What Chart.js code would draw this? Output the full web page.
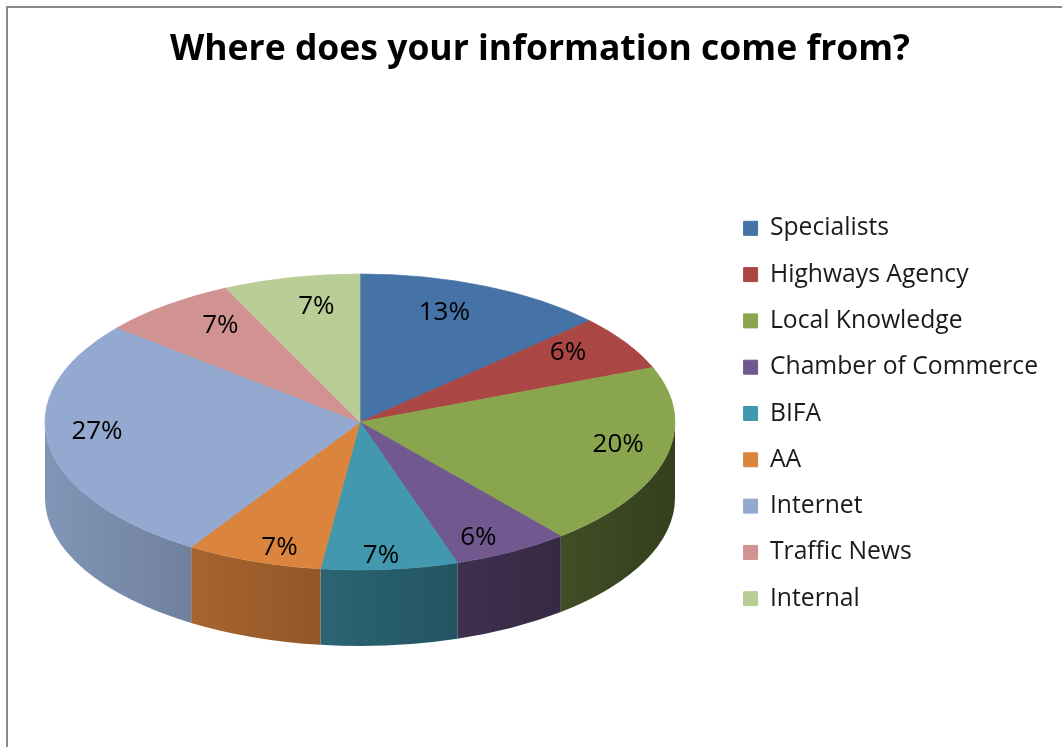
<!DOCTYPE html>
<html>
<head>
<meta charset="utf-8">
<script src="https://cdn.jsdelivr.net/npm/chart.js@4.4.0/dist/chart.umd.min.js"></script>
<style>
  html, body { margin: 0; padding: 0; background: #fff; overflow: hidden; }
  #wrap { position: relative; width: 1062px; height: 747px; }
  #frame { position: absolute; left: 6px; top: 6px; width: 1200px; height: 900px;
           border-left: 2px solid #8a8a8a; border-top: 2px solid #8a8a8a; }
  canvas { position: absolute; left: 0; top: 0; }
</style>
</head>
<body>
<div id="wrap">
  <div id="frame"></div>
  <canvas id="sources" width="1062" height="747"></canvas>
</div>
<script>
const sourceNames = ['Specialists', 'Highways Agency', 'Local Knowledge', 'Chamber of Commerce',
  'BIFA', 'AA', 'Internet', 'Traffic News', 'Internal'];
const sharePct = [13, 6, 20, 6, 7, 7, 27, 7, 7];
const sliceColors = ['#4572a7', '#aa4643', '#89a54e', '#71588f', '#4198af',
  '#db843d', '#93a9cf', '#d19392', '#b9cd96'];

const FONT = "'Open Sans', 'Noto Sans', sans-serif";

// where the tilted disc sits on the canvas
const disc = { cx: 360, cy: 422, rx: 315, ry: 148, depth: 76 };

function shade(hex, f) {
  const n = parseInt(hex.slice(1), 16);
  const r = Math.round(((n >> 16) & 255) * f);
  const g = Math.round(((n >> 8) & 255) * f);
  const b = Math.round((n & 255) * f);
  return `rgb(${r},${g},${b})`;
}

// side walls get darker towards the right
function wallLight(x) {
  const t = Math.min(1, Math.max(0, (x - (disc.cx - disc.rx)) / (2 * disc.rx)));
  return 0.88 - 0.5 * t;
}

const pie3d = {
  id: 'pie3d',
  beforeDatasetsDraw(chart) {
    const ctx = chart.ctx;
    const arcs = chart.getDatasetMeta(0).data;
    if (!arcs.length) return;
    const { cx, cy, rx, ry, depth } = disc;

    // front walls, only the part of each slice facing the viewer (0..PI)
    arcs.forEach((arc, i) => {
      const s = Math.max(arc.startAngle, 0);
      const e = Math.min(arc.endAngle, Math.PI);
      if (e <= s) return;
      const xl = cx + rx * Math.cos(e);
      const xr = cx + rx * Math.cos(s);
      const grad = ctx.createLinearGradient(xl, 0, xr, 0);
      grad.addColorStop(0, shade(sliceColors[i], wallLight(xl)));
      grad.addColorStop(1, shade(sliceColors[i], wallLight(xr)));
      ctx.save();
      ctx.beginPath();
      ctx.ellipse(cx, cy, rx, ry, 0, s, e, false);
      ctx.ellipse(cx, cy + depth, rx, ry, 0, e, s, true);
      ctx.closePath();
      ctx.fillStyle = grad;
      ctx.fill();
      ctx.restore();
    });

    // squash the flat pie into the top face
    const a = arcs[0];
    ctx.save();
    ctx.translate(cx, cy);
    ctx.scale(rx / a.outerRadius, ry / a.outerRadius);
    ctx.translate(-a.x, -a.y);
  },
  afterDatasetsDraw(chart) {
    const ctx = chart.ctx;
    ctx.restore();
    const arcs = chart.getDatasetMeta(0).data;
    const { cx, cy, rx } = disc;
    ctx.save();
    ctx.font = `26px ${FONT}`;
    ctx.fillStyle = '#000';
    ctx.textAlign = 'center';
    ctx.textBaseline = 'middle';
    arcs.forEach((arc, i) => {
      const mid = (arc.startAngle + arc.endAngle) / 2;
      const c = Math.cos(mid), s = Math.sin(mid);
      // labels sit further out on the sides and front of the disc
      const fx = 0.64 + 0.2 * Math.abs(c) + 0.05 * s;
      const x = cx + rx * fx * c;
      const y = cy - 14 + (s < 0 ? 104 : 148) * s;
      ctx.fillText(sharePct[i] + '%', x, y);
    });
    ctx.restore();
  }
};

new Chart(document.getElementById('sources'), {
  type: 'pie',
  data: {
    labels: sourceNames,
    datasets: [{
      data: sharePct,
      backgroundColor: sliceColors,
      borderColor: sliceColors,
      borderWidth: 1
    }]
  },
  options: {
    responsive: false,
    animation: false,
    layout: { padding: { left: 32, right: 14, bottom: 10 } },
    plugins: {
      title: {
        display: true,
        text: 'Where does your information come from?',
        color: '#000',
        font: { family: FONT, size: 35.5, weight: 'bold' },
        padding: { top: 29, bottom: 20 }
      },
      legend: {
        position: 'right',
        title: {
          // empty spacer above the items
          display: true,
          text: '',
          font: { family: FONT, size: 25 },
          padding: { top: 0, bottom: 60 }
        },
        labels: {
          boxWidth: 14,
          boxHeight: 14,
          padding: 21.6,
          color: '#1a1a1a',
          font: { family: FONT, size: 24.7 }
        }
      },
      tooltip: { enabled: false }
    }
  },
  plugins: [pie3d]
});
</script>
</body>
</html>
